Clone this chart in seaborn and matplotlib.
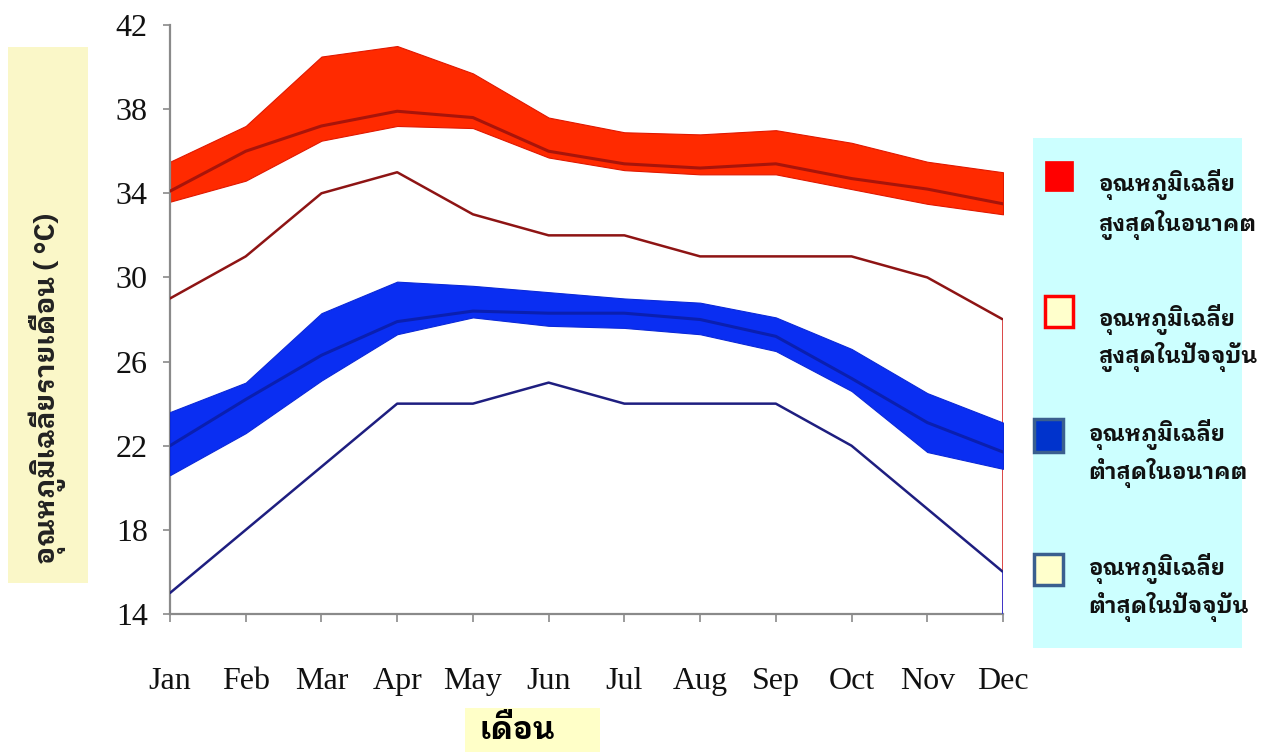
import matplotlib
matplotlib.use("Agg")
import matplotlib.pyplot as plt
from matplotlib.patches import Rectangle
import seaborn as sns
import pandas as pd
import numpy as np

# ---------------- data ----------------
months = ["Jan", "Feb", "Mar", "Apr", "May", "Jun", "Jul", "Aug", "Sep", "Oct", "Nov", "Dec"]
yticks = [14, 18, 22, 26, 30, 34, 38, 42]

future_max_hi = [35.5, 37.2, 40.5, 41.0, 39.7, 37.6, 36.9, 36.8, 37.0, 36.4, 35.5, 35.0]
future_max_mid = [34.1, 36.0, 37.2, 37.9, 37.6, 36.0, 35.4, 35.2, 35.4, 34.7, 34.2, 33.5]
future_max_lo = [33.6, 34.6, 36.5, 37.2, 37.1, 35.7, 35.1, 34.9, 34.9, 34.2, 33.5, 33.0]

present_max = [29, 31, 34, 35, 33, 32, 32, 31, 31, 31, 30, 28]

future_min_hi = [23.6, 25.0, 28.3, 29.8, 29.6, 29.3, 29.0, 28.8, 28.1, 26.6, 24.5, 23.1]
future_min_mid = [22.0, 24.2, 26.3, 27.9, 28.4, 28.3, 28.3, 28.0, 27.2, 25.2, 23.1, 21.7]
future_min_lo = [20.6, 22.6, 25.1, 27.3, 28.1, 27.7, 27.6, 27.3, 26.5, 24.6, 21.7, 20.9]

present_min = [15, 18, 21, 24, 24, 25, 24, 24, 24, 22, 19, 16]

legend_labels = [
    ("อุณหภูมิเฉลี่ย", "สูงสุดในอนาคต"),
    ("อุณหภูมิเฉลี่ย", "สูงสุดในปัจจุบัน"),
    ("อุณหภูมิเฉลี่ย", "ต่ำสุดในอนาคต"),
    ("อุณหภูมิเฉลี่ย", "ต่ำสุดในปัจจุบัน"),
]
ylabel_text = "อุณหภูมิเฉลี่ยรายเดือน ( °C)"
xlabel_text = "เดือน"

df = pd.DataFrame({
    "m": np.arange(len(months)),
    "fmax_hi": future_max_hi, "fmax_mid": future_max_mid, "fmax_lo": future_max_lo,
    "pmax": present_max,
    "fmin_hi": future_min_hi, "fmin_mid": future_min_mid, "fmin_lo": future_min_lo,
    "pmin": present_min,
})

# ---------------- style ----------------
sns.set_theme(style="white")
plt.rcParams["font.family"] = ["Liberation Serif", "DejaVu Sans"]
THAI = ["IBM Plex Sans Thai Looped", "Noto Sans Thai Looped", "DejaVu Sans"]

W, H = 1268, 752
fig = plt.figure(figsize=(W / 100, H / 100), dpi=100)
fig.patch.set_facecolor("white")

def fx(px):
    return px / W

def fy(py):
    return 1 - py / H

ax = fig.add_axes([fx(170), fy(614), (1003 - 170) / W, (614 - 25) / H])
ax.set_facecolor("white")

RED_BAND = "#FF2A00"
RED_MID = "#A8140A"
RED_PRES = "#8E1414"
BLUE_BAND = "#0A2EF2"
BLUE_MID = "#0A1FB0"
BLUE_PRES = "#1E1E80"

# future maximum band
ax.fill_between(df["m"], df["fmax_lo"], df["fmax_hi"], color=RED_BAND, lw=0.8, edgecolor="#E01800", zorder=2)
sns.lineplot(data=df, x="m", y="fmax_mid", ax=ax, color=RED_MID, lw=2.2, zorder=3)

# present maximum
sns.lineplot(data=df, x="m", y="pmax", ax=ax, color=RED_PRES, lw=1.8, zorder=3)
ax.vlines(df["m"].iloc[-1], yticks[0], df["pmax"].iloc[-1], color="#D01010", lw=1.8, zorder=2)

# future minimum band
ax.fill_between(df["m"], df["fmin_lo"], df["fmin_hi"], color=BLUE_BAND, lw=0.8, edgecolor="#0A28D8", zorder=4)
sns.lineplot(data=df, x="m", y="fmin_mid", ax=ax, color=BLUE_MID, lw=2.2, zorder=5)

# present minimum
sns.lineplot(data=df, x="m", y="pmin", ax=ax, color=BLUE_PRES, lw=1.8, zorder=5)
ax.vlines(df["m"].iloc[-1], yticks[0], df["pmin"].iloc[-1], color="#1030F0", lw=1.8, zorder=5)

ax.set_xlim(0, len(months) - 1)
ax.set_ylim(yticks[0], yticks[-1])
ax.set_xticks(df["m"])
ax.set_xticklabels(months)
ax.set_yticks(yticks)
ax.set_yticklabels([str(v) for v in yticks])
ax.set_xlabel("")
ax.set_ylabel("")

for s in ["top", "right"]:
    ax.spines[s].set_visible(False)
for s in ["left", "bottom"]:
    ax.spines[s].set_color("#8A8A8A")
    ax.spines[s].set_linewidth(1.6)

ax.tick_params(axis="y", direction="out", length=5, width=1.2, color="#8A8A8A",
               pad=11, labelsize=23, labelcolor="#111111", left=True)
ax.tick_params(axis="x", direction="out", length=6, width=1.2, color="#8A8A8A",
               pad=32, labelsize=23, labelcolor="#111111", bottom=True)

# ---------------- y label box ----------------
fig.patches.append(Rectangle((fx(8), fy(583)), 80 / W, (583 - 47) / H,
                             transform=fig.transFigure, facecolor="#FAF7C8", edgecolor="none", zorder=0))
fig.text(fx(47), fy(388), ylabel_text, rotation=90, ha="center", va="center",
         fontsize=20, fontweight="bold", family=THAI, color="#222222")

# ---------------- x label box ----------------
fig.patches.append(Rectangle((fx(465), 0), 135 / W, 44 / H,
                             transform=fig.transFigure, facecolor="#FFFFC8", edgecolor="none", zorder=0))
fig.text(fx(479), fy(730), xlabel_text, ha="left", va="center",
         fontsize=22, fontweight="bold", family=THAI, color="#000000")

# ---------------- legend ----------------
fig.patches.append(Rectangle((fx(1033), fy(648)), 209 / W, (648 - 138) / H,
                             transform=fig.transFigure, facecolor="#CCFFFF", edgecolor="none", zorder=0))

swatches = [
    dict(box=(1045, 161, 28, 30), fc="#FF0000", ec="#FF0000", lw=0.5),
    dict(box=(1045, 296, 28, 31), fc="#FFFFCC", ec="#FF0000", lw=2.5),
    dict(box=(1034, 419, 29, 33), fc="#0033CC", ec="#3A5F8F", lw=2.5),
    dict(box=(1034, 554, 29, 31), fc="#FFFFCC", ec="#3A5F8F", lw=2.5),
]
text_pos = [(1098, 185, 225), (1098, 320, 357), (1088, 434, 473), (1088, 569, 607)]

for sw, (tx, y1, y2), (l1, l2) in zip(swatches, text_pos, legend_labels):
    bx, by, bw, bh = sw["box"]
    fig.patches.append(Rectangle((fx(bx), fy(by + bh)), bw / W, bh / H,
                                 transform=fig.transFigure, facecolor=sw["fc"],
                                 edgecolor=sw["ec"], lw=sw["lw"], zorder=1))
    fig.text(fx(tx), fy(y1), l1, ha="left", va="center", fontsize=16,
             fontweight="bold", family=THAI, color="#111111")
    fig.text(fx(tx), fy(y2), l2, ha="left", va="center", fontsize=16,
             fontweight="bold", family=THAI, color="#111111")

fig.savefig("out.png", dpi=100, facecolor="white")
